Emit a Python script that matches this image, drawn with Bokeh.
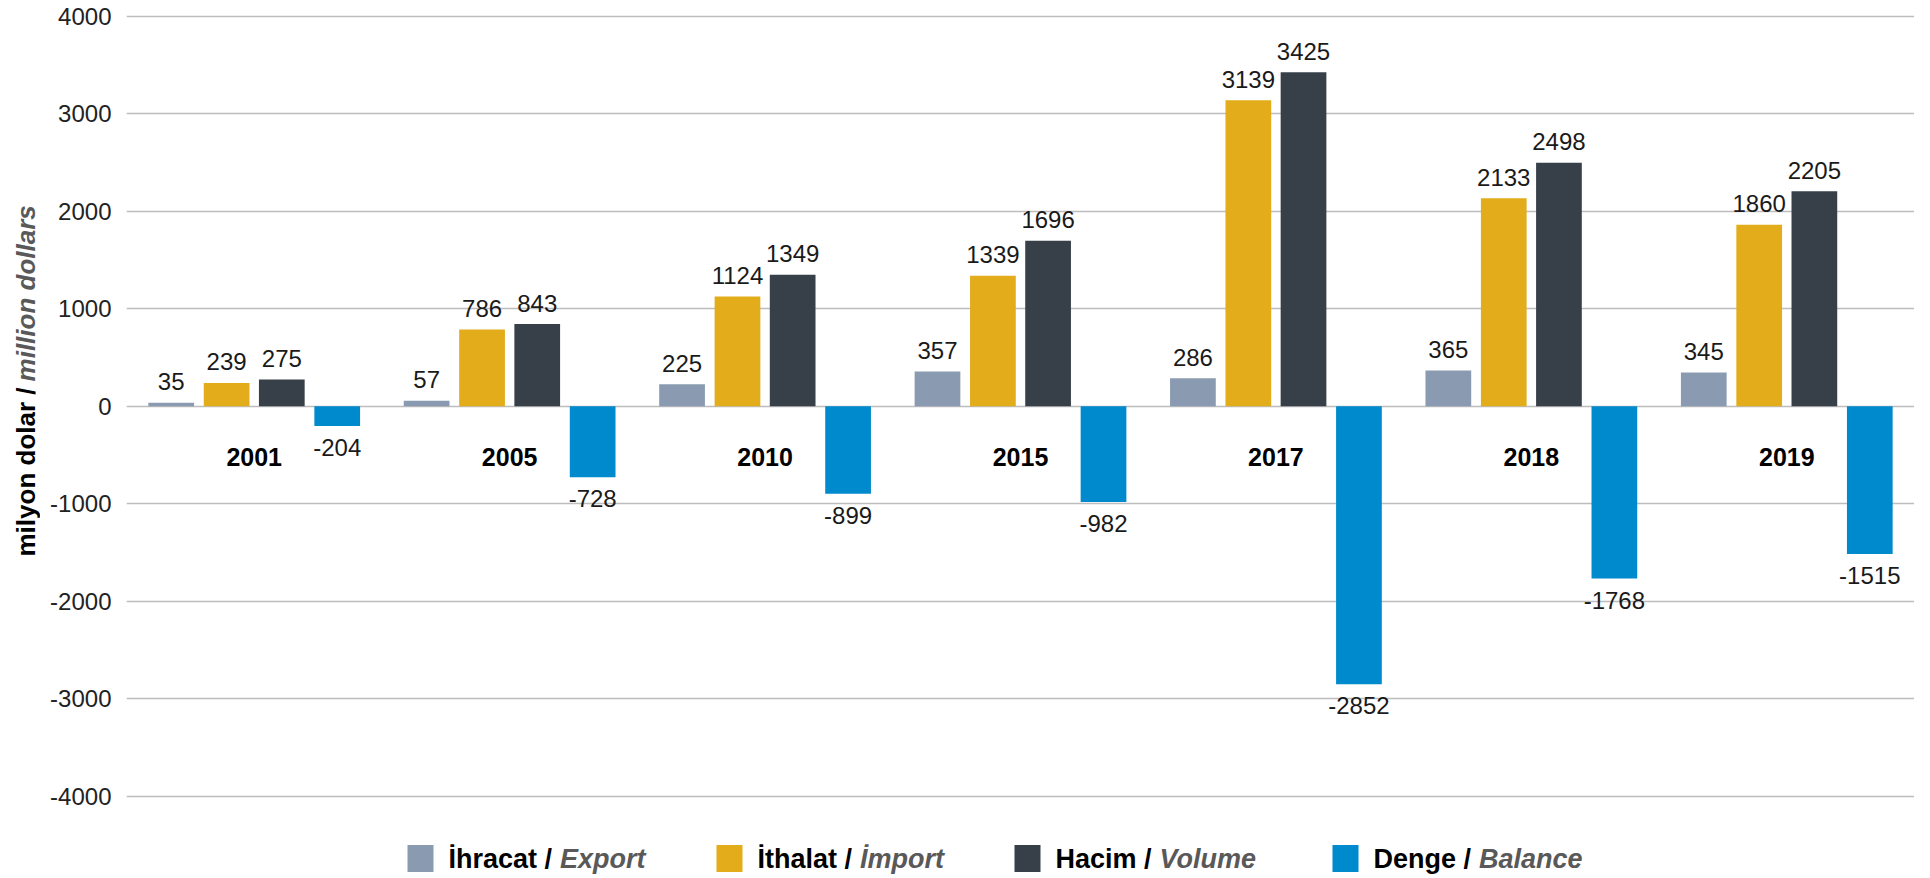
import math
from bokeh.plotting import figure
from bokeh.models import (ColumnDataSource, FactorRange, Range1d, FixedTicker,
                          PrintfTickFormatter)
from bokeh.transform import dodge
from bokeh.layouts import column, row
from bokeh.core.properties import value
from bokeh.embed import file_html
from bokeh.resources import INLINE

# ---------------- data ----------------
years = ["2001", "2005", "2010", "2015", "2017", "2018", "2019"]
export_vals = [35, 57, 225, 357, 286, 365, 345]
import_vals = [239, 786, 1124, 1339, 3139, 2133, 1860]
volume_vals = [275, 843, 1349, 1696, 3425, 2498, 2205]
balance_vals = [-204, -728, -899, -982, -2852, -1768, -1515]
y_ticks = [-4000, -3000, -2000, -1000, 0, 1000, 2000, 3000, 4000]

series_bold = ["İhracat /", "İthalat /", "Hacim /", "Denge /"]
series_italic = ["Export", "İmport", "Volume", "Balance"]
colors = ["#8A9BB1", "#E2AC1A", "#374048", "#008ACE"]
ylabel_bold = "milyon dolar /"
ylabel_italic = "million dollars"

FONT = "Liberation Sans"

# ---- helper: approximate Arial Bold widths (per 1000 em) ----
BOLD_W = {"İ": 278, "h": 611, "r": 389, "a": 556, "c": 556, "t": 333, " ": 278, "/": 278,
          "H": 722, "i": 278, "m": 889, "D": 722, "e": 556, "n": 611, "g": 611, "l": 278,
          "y": 556, "o": 611, "d": 611}

def bold_width(s, size):
    return sum(BOLD_W.get(ch, 556) for ch in s) / 1000.0 * size

src = ColumnDataSource(dict(
    years=years,
    export=export_vals, imp=import_vals, volume=volume_vals, balance=balance_vals,
    export_t=[str(v) for v in export_vals],
    imp_t=[str(v) for v in import_vals],
    volume_t=[str(v) for v in volume_vals],
    balance_t=[str(v) for v in balance_vals],
    zero=[0] * len(years),
))

TOTAL_W = 1914
LEFT_W = 40
MAIN_W = TOTAL_W - LEFT_W
MAIN_H = 820
FRAME_L = 86          # frame starts at LEFT_W + FRAME_L = 126

p = figure(
    x_range=FactorRange(*years, range_padding=0),
    y_range=Range1d(-4044, 4058.5),
    width=MAIN_W, height=MAIN_H,
    output_backend="svg", toolbar_location=None,
    min_border_left=FRAME_L, min_border_right=0, min_border_top=10, min_border_bottom=20,
)
p.outline_line_color = None
p.xaxis.visible = False
p.xgrid.grid_line_color = None
p.ygrid.grid_line_color = "#BDBDBD"
p.ygrid.grid_line_width = 1.4
p.yaxis.ticker = FixedTicker(ticks=y_ticks)
p.yaxis.formatter = PrintfTickFormatter(format="%d")
p.yaxis.axis_line_color = None
p.yaxis.major_tick_line_color = None
p.yaxis.minor_tick_line_color = None
p.yaxis.major_tick_out = 0
p.yaxis.major_tick_in = 0
p.yaxis.major_label_standoff = 15
p.yaxis.major_label_text_font = FONT
p.yaxis.major_label_text_font_size = "24px"
p.yaxis.major_label_text_color = "#222222"

offsets = [-0.325, -0.108, 0.108, 0.325]
fields = ["export", "imp", "volume", "balance"]
bw = 0.179
for f, off, c in zip(fields, offsets, colors):
    p.vbar(x=dodge("years", off, range=p.x_range), bottom=0, top=f, width=bw,
           source=src, fill_color=c, line_color=None)
    if f == "balance":
        p.text(x=dodge("years", off, range=p.x_range), y=f, text=f + "_t", source=src,
               text_align="center", text_baseline="top", y_offset=13,
               text_font=value(FONT), text_font_size="24px", text_color="#1a1a1a")
    else:
        p.text(x=dodge("years", off, range=p.x_range), y=f, text=f + "_t", source=src,
               text_align="center", text_baseline="alphabetic", y_offset=-21,
               text_font=value(FONT), text_font_size="24px", text_color="#1a1a1a")

# category labels
p.text(x="years", y="zero", text="years", source=src, text_align="center",
       text_baseline="alphabetic", y_offset=51, text_font=value(FONT),
       text_font_size="25px", text_font_style="bold", text_color="#000000")

# ---------------- y-axis title (left strip) ----------------
ysize = 26
yl = figure(width=LEFT_W, height=MAIN_H, x_range=Range1d(0, LEFT_W),
            y_range=Range1d(0, MAIN_H), output_backend="svg", toolbar_location=None,
            min_border=0, min_border_left=0, min_border_right=0,
            min_border_top=0, min_border_bottom=0)
yl.outline_line_color = None
yl.axis.visible = False
yl.grid.visible = False
y0 = MAIN_H - 556
y1 = y0 + bold_width(ylabel_bold, ysize) + 6
yl.text(x=[25], y=[y0], text=[ylabel_bold], angle=math.pi / 2, text_align="left",
        text_baseline="middle", text_font=value(FONT), text_font_size=f"{ysize}px",
        text_font_style="bold", text_color="#000000")
yl.text(x=[25], y=[y1], text=[ylabel_italic], angle=math.pi / 2, text_align="left",
        text_baseline="middle", text_font=value(FONT), text_font_size=f"{ysize}px",
        text_font_style="bold italic", text_color="#595959")

# ---------------- legend ----------------
LH = 56
lg = figure(width=MAIN_W, height=LH, x_range=Range1d(LEFT_W + FRAME_L, TOTAL_W),
            y_range=Range1d(0, LH),
            output_backend="svg", toolbar_location=None,
            min_border=0, min_border_left=FRAME_L, min_border_right=0,
            min_border_top=0, min_border_bottom=0)
lg.outline_line_color = None
lg.axis.visible = False
lg.grid.visible = False

sq_left = [407, 716, 1014, 1332]
ly = 18
lsize = 27
leg_src = ColumnDataSource(dict(
    x=[s + 13 for s in sq_left], y=[ly] * 4, color=colors,
    tx=[s + 41 for s in sq_left], bold=series_bold,
    ix=[s + 41 + bold_width(b, lsize) + 8 for s, b in zip(sq_left, series_bold)],
    ital=series_italic,
))
lg.rect(x="x", y="y", width=26, height=27, fill_color="color", line_color=None, source=leg_src)
lg.text(x="tx", y="y", text="bold", source=leg_src, text_align="left", text_baseline="middle",
        text_font=value(FONT), text_font_size=f"{lsize}px", text_font_style="bold",
        text_color="#000000")
lg.text(x="ix", y="y", text="ital", source=leg_src, text_align="left", text_baseline="middle",
        text_font=value(FONT), text_font_size=f"{lsize}px", text_font_style="bold italic",
        text_color="#595959")

layout = row(yl, column(p, lg, spacing=0), spacing=0)
open("out.html", "w").write(file_html(layout, INLINE))
